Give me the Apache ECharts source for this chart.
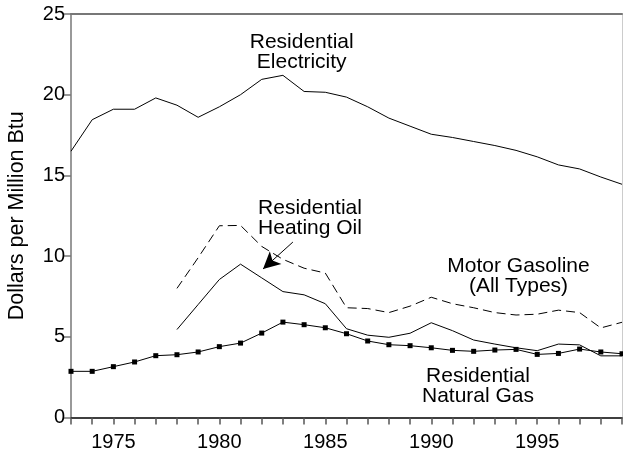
<!DOCTYPE html>
<html>
<head>
<meta charset="utf-8">
<script src="https://cdn.jsdelivr.net/npm/echarts@6/dist/echarts.min.js"></script>
<style>
html,body{margin:0;padding:0;background:#fff;}
#chart{width:623px;height:455px;}
</style>
</head>
<body>
<div id="chart"></div>
<script>
var years = [1973,1974,1975,1976,1977,1978,1979,1980,1981,1982,1983,1984,1985,1986,1987,1988,1989,1990,1991,1992,1993,1994,1995,1996,1997,1998,1999];
var electricity = [16.5,18.45,19.1,19.1,19.8,19.35,18.6,19.25,20.0,20.95,21.2,20.2,20.15,19.85,19.25,18.55,18.05,17.55,17.35,17.1,16.85,16.55,16.15,15.65,15.4,14.9,14.45];
var gasoline = [null,null,null,null,null,8.0,9.9,11.88,11.9,10.6,9.8,9.25,8.95,6.8,6.75,6.5,6.9,7.45,7.05,6.8,6.5,6.35,6.4,6.65,6.5,5.55,5.9];
var heatingOil = [null,null,null,null,null,5.45,7.0,8.55,9.5,8.65,7.8,7.6,7.05,5.5,5.1,4.97,5.22,5.87,5.38,4.8,4.55,4.32,4.14,4.55,4.5,3.82,3.82];
var naturalGas = [2.86,2.86,3.15,3.44,3.83,3.89,4.06,4.39,4.61,5.23,5.91,5.75,5.56,5.19,4.74,4.51,4.45,4.32,4.16,4.1,4.18,4.22,3.91,3.97,4.24,4.06,3.95];
var yTicks = [0,5,10,15,20,25];
var xLabelYears = [1975,1980,1985,1990,1995];
var arrowFrom = [1983.47,10.87];
var arrowTo = [1982.06,9.2];

function pairs(arr){
  var out=[];
  for(var i=0;i<years.length;i++){ if(arr[i]!==null) out.push([years[i],arr[i]]); }
  return out;
}
var FONT = 'Liberation Sans, Arial, sans-serif';
var chart = echarts.init(document.getElementById('chart'), null, {renderer:'canvas'});
var annStyle = {fontFamily:FONT,fontSize:21,lineHeight:20,fill:'#000',align:'center',verticalAlign:'top'};
function ann(text,x,y){ return {type:'text',x:x,y:y,style:Object.assign({text:text},annStyle)}; }
var option = {
  animation:false,
  backgroundColor:'#fff',
  grid:{left:71,right:1,top:14,bottom:37.5,containLabel:false,outerBoundsMode:'none'},
  xAxis:[{
    type:'value',min:years[0],max:years[years.length-1],interval:1,
    axisLine:{show:true,onZero:false,lineStyle:{color:'#000',width:1.5}},
    axisTick:{show:true,length:7,lineStyle:{color:'#555',width:1.5}},
    axisLabel:{fontFamily:FONT,fontSize:20,color:'#000',margin:15,
      formatter:function(v){return xLabelYears.indexOf(v)>=0?String(v):'';}},
    splitLine:{show:false}
  },{
    type:'value',position:'top',min:years[0],max:years[years.length-1],
    axisLine:{show:true,onZero:false,lineStyle:{color:'#777',width:2}},
    axisTick:{show:false},axisLabel:{show:false},splitLine:{show:false}
  }],
  yAxis:[{
    type:'value',min:yTicks[0],max:yTicks[yTicks.length-1],interval:5,
    name:'Dollars per Million Btu',nameLocation:'middle',nameGap:43,
    nameTextStyle:{fontFamily:FONT,fontSize:21.5,color:'#000'},
    axisLine:{show:true,onZero:false,lineStyle:{color:'#777',width:1.5}},
    axisTick:{show:true,length:7,lineStyle:{color:'#777',width:1.5}},
    axisLabel:{fontFamily:FONT,fontSize:20,color:'#000',margin:6},
    splitLine:{show:false}
  },{
    type:'value',position:'right',min:0,max:25,
    axisLine:{show:true,onZero:false,lineStyle:{color:'#ccc',width:1}},
    axisTick:{show:false},axisLabel:{show:false},splitLine:{show:false}
  }],
  series:[
    {name:'Residential Electricity',type:'line',data:pairs(electricity),symbol:'none',
      lineStyle:{color:'#000',width:1},silent:true},
    {name:'Motor Gasoline',type:'line',data:pairs(gasoline),symbol:'none',
      lineStyle:{color:'#000',width:1,type:[9,5]},silent:true},
    {name:'Residential Heating Oil',type:'line',data:pairs(heatingOil),symbol:'none',
      lineStyle:{color:'#000',width:1},silent:true,
      markLine:{silent:true,animation:false,symbolSize:[13,17],
        lineStyle:{color:'#000',width:1,type:'solid'},label:{show:false},
        data:[[{coord:arrowFrom,symbol:'none'},{coord:arrowTo,symbol:'arrow'}]]}},
    {name:'Residential Natural Gas',type:'line',data:pairs(naturalGas),symbol:'rect',symbolSize:5,
      itemStyle:{color:'#000'},lineStyle:{color:'#000',width:1},silent:true}
  ],
  graphic:[
    ann('Residential\nElectricity',301.7,32),
    ann('Residential\nHeating Oil',310,198),
    ann('Motor Gasoline\n(All Types)',518.5,256),
    ann('Residential\nNatural Gas',478,366.5)
  ]
};
chart.setOption(option);
</script>
</body>
</html>
